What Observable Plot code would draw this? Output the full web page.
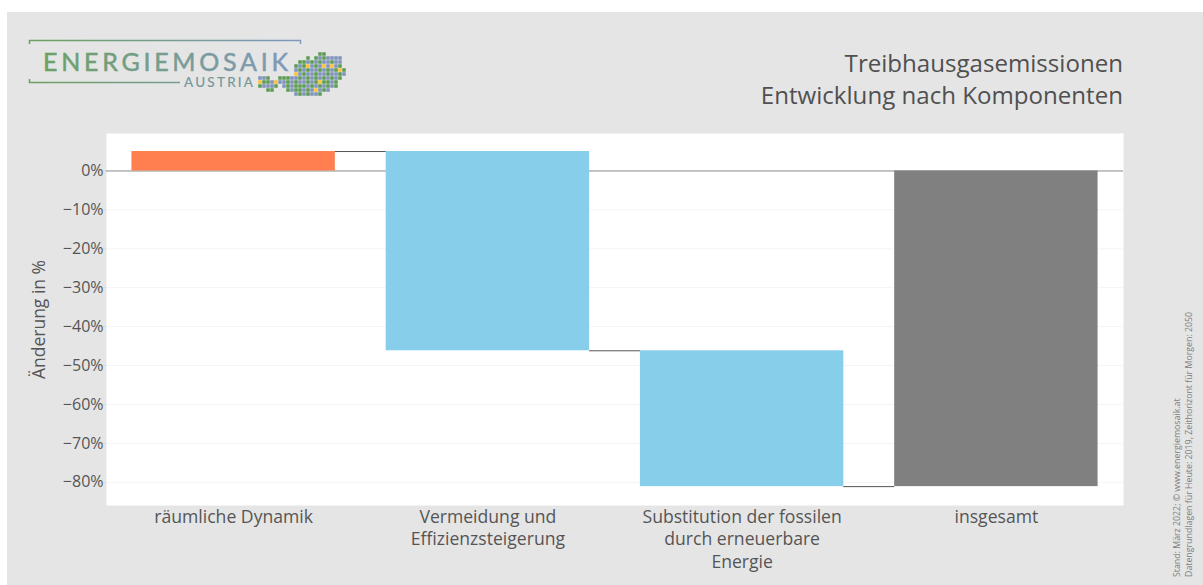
<!DOCTYPE html>
<html lang="de">
<head>
<meta charset="utf-8">
<script src="https://cdn.jsdelivr.net/npm/d3@7"></script>
<script src="https://cdn.jsdelivr.net/npm/@observablehq/plot@0.6"></script>
<style>
html,body{margin:0;padding:0;background:#fff;overflow:hidden}
#page{position:relative;width:1203px;height:585px;overflow:hidden;font-family:"Open Sans",sans-serif}
#bg{position:absolute;left:7px;top:12px;right:0;bottom:0;background:#e5e5e5}
#chart,#logo,#mosaic{position:absolute;left:0;top:0}
#mosaic{left:257.7px;top:52.3px}
.title{position:absolute;right:80px;text-align:right;font-size:24.1px;line-height:32px;color:#505050;white-space:nowrap}
.cap{position:absolute;font-size:8.8px;line-height:12px;color:#808080;white-space:nowrap;transform-origin:0 0;transform:rotate(-90deg)}
svg{background:transparent!important}
</style>
</head>
<body>
<div id="page">
  <div id="bg"></div>
  <svg id="logo" width="1203" height="120" font-family="Lato, sans-serif">
    <defs>
      <linearGradient id="lg" gradientUnits="userSpaceOnUse" x1="29" x2="300" y1="0" y2="0">
        <stop offset="0" stop-color="#6ca060"/>
        <stop offset="1" stop-color="#8099bd"/>
      </linearGradient>
    </defs>
    <path d="M29.5 44V40.5H300.5V44M29.5 79V82.5H180" fill="none" stroke="url(#lg)" stroke-width="1.5"/>
    <text x="43" y="71" font-size="25" fill="url(#lg)" stroke="url(#lg)" stroke-width="0.5" textLength="245" lengthAdjust="spacing">ENERGIEMOSAIK</text>
    <text x="184" y="87" font-size="13.5" fill="#75979a" stroke="#75979a" stroke-width="0.2" textLength="69" lengthAdjust="spacing">AUSTRIA</text>
  </svg>
  <div id="mosaic"></div>
  <div id="chart"></div>
  <div class="title" style="top:47px">Treibhausgasemissionen</div>
  <div class="title" style="top:79px">Entwicklung nach Komponenten</div>
  <div class="cap" id="cap1" style="left:1171px;top:577px">Stand: März 2022; © www.energiemosaik.at</div>
  <div class="cap" id="cap2" style="left:1183px;top:577px">Datengrundlagen für Heute: 2019, Zeithorizont für Morgen: 2050</div>
</div>
<script>
const categories = ["räumliche Dynamik", "Vermeidung und\nEffizienzsteigerung", "Substitution der fossilen\ndurch erneuerbare\nEnergie", "insgesamt"];
const barStart = [0, 5, -46.2, 0];
const barEnd = [5, -46.2, -81.1, -81.1];
const barKind = ["Zunahme", "Abnahme", "Abnahme", "Gesamt"];
const kinds = ["Zunahme", "Abnahme", "Gesamt"];
const kindColors = ["#ff7f50", "#87ceeb", "#808080"];
const connectorLevel = [5, -46.2, -81.1];
const yTicks = [0, -10, -20, -30, -40, -50, -60, -70, -80];
const yTitle = "Änderung in %";

const bars = categories.map((c, i) => ({i, y1: barStart[i], y2: barEnd[i], kind: barKind[i]}));
const connectors = connectorLevel.map((v, i) => ({i, v}));
const textColor = "#555";

const chart = Plot.plot({
  width: 1203, height: 585,
  marginLeft: 106, marginRight: 80, marginTop: 133, marginBottom: 80,
  style: {fontFamily: '"Open Sans", sans-serif', background: "transparent", overflow: "visible"},
  x: {type: "linear", domain: [-0.5, 3.5]},
  y: {domain: [-85.95, 9.63]},
  color: {domain: kinds, range: kindColors},
  marks: [
    Plot.frame({fill: "white", stroke: null}),
    Plot.ruleY(yTicks.filter(d => d !== 0), {stroke: "#f4f4f4", strokeWidth: 1}),
    Plot.ruleY([0], {stroke: "#888", strokeWidth: 1}),
    Plot.rectY(bars, {x1: d => d.i - 0.4, x2: d => d.i + 0.4, y1: "y1", y2: "y2", fill: "kind", inset: 0}),
    Plot.ruleY(connectors, {x1: d => d.i + 0.4, x2: d => d.i + 0.6, y: "v", stroke: "#555", strokeWidth: 1}),
    Plot.axisY({
      ticks: yTicks, tickSize: 3, tickPadding: 0, tickFormat: d => (d < 0 ? "−" + (-d) : d) + "%",
      stroke: "#d8d8d8", color: textColor, fontSize: 16, label: null
    }),
    Plot.axisX({
      ticks: [0, 1, 2, 3], tickSize: 0, tickPadding: 1, tickFormat: i => categories[i],
      color: textColor, fontSize: 17.6, lineHeight: 1.29, label: null, textOverflow: null
    }),
    Plot.text([yTitle], {
      frameAnchor: "left", textAnchor: "middle", dx: -67, rotate: -90, fontSize: 17.5, fill: textColor
    })
  ]
});
document.getElementById("chart").append(chart);

// Logo mosaic of Austria: g green, b blue, y yellow, . empty
const mosaicRows = [
  "...............gg.....",
  "............g.gbgbbbb.",
  "..........ggbgbgbbgbb.",
  ".........gbgybgbybybg.",
  ".........bgbgbbgbgbgyg",
  ".........ybgbbgbbgbbgb",
  "bbg..gggbbgbgbgbgbgbg.",
  "yggbybbgbgbbgbgyggbg..",
  "gbbbg.bgbgggbgbgbgbg..",
  "..gg...gbggbgbybgb....",
  ".........bgbgbbg......"
];
const mosaicColors = {g: "#5a9c50", b: "#7f93bc", y: "#fdc22e"};
const cells = mosaicRows.flatMap((row, r) => [...row].map((k, c) => ({r, c, k}))).filter(d => d.k !== ".");
const mosaic = Plot.plot({
  width: 88, height: 44, margin: 0,
  style: {background: "transparent"},
  x: {type: "band", domain: d3.range(22), axis: null, padding: 0},
  y: {type: "band", domain: d3.range(11), axis: null, padding: 0},
  marks: [Plot.cell(cells, {x: "c", y: "r", fill: d => mosaicColors[d.k], inset: 0.25})]
});
document.getElementById("mosaic").append(mosaic);
</script>
</body>
</html>
